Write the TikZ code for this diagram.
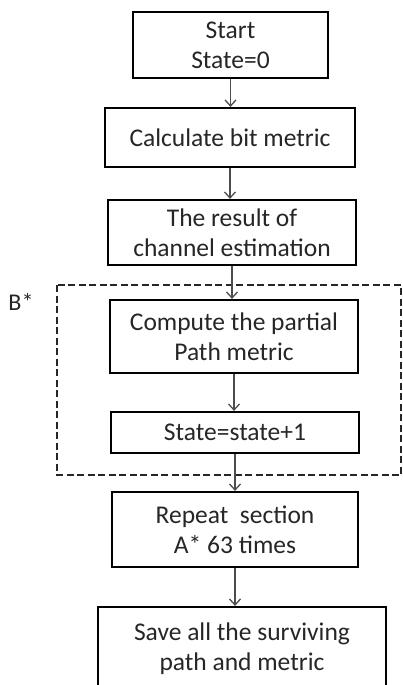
\documentclass[tikz,border=0pt]{standalone}
\usepackage{fontspec}
\setmainfont{Carlito}
\usepackage{tikz}
\usetikzlibrary{arrows.meta}
\usetikzlibrary{calc}
\usetikzlibrary{positioning}

\begin{document}
\begin{tikzpicture}[x=1pt, y=-1pt,
  blockbox/.style={draw=black, line width=2.2pt, inner sep=0pt, align=center, text=black!85,
    font=\fontsize{25.5}{30}\selectfont},
  arrowline/.style={draw=black!70, line width=1.3pt, -{Straight Barb[length=6pt, width=11pt, line width=1.3pt]}}]

\useasboundingbox (0,0) rectangle (403,685);
\clip (0,0) rectangle (403,685);

% Start
\node [blockbox, minimum width=195pt, minimum height=66pt] at (230.5,45) (s1) {Start\\State=0};

% Bit metric
\node [blockbox, minimum width=250pt, minimum height=59pt] at (230,137.5) (s2) {Calculate bit metric};

% Channel estimation
\node [blockbox, minimum width=248pt, minimum height=65pt] at (232,232.5) (s3) {The result of\\channel estimation};

% Section B*
\draw[line width=1.6pt, black!85, dash pattern=on 7pt off 3.5pt] (57,285) rectangle (401,475);
\node [text=black!85, font=\fontsize{24}{28}\selectfont] at (21,302) (lb) {B*};

\node [blockbox, minimum width=248pt, minimum height=73pt] at (234,336.5) (s4) {Compute the partial\\Path metric};
\node [blockbox, minimum width=248pt, minimum height=41pt] at (235,432.5) (s5) {State=state+1};

% Repeat
\node [blockbox, minimum width=246pt, minimum height=75pt] at (235,529.5) (s6) {Repeat\ \ section\\A* 63 times};

% Save
\node [blockbox, minimum width=288pt, minimum height=86pt] at (242,650) (s7) {};
\node [text=black!85, align=center, font=\fontsize{25.5}{30}\selectfont] at (242,649) (t7) {Save all the surviving\\path and metric};

% Arrows
\draw[arrowline] (s1.south) -- (s1.south |- s2.north);
\draw[arrowline] (s2.south) -- (s2.south |- s3.north);
\draw[arrowline] (s3.south) -- (s3.south |- s4.north);
\draw[arrowline] (s4.south) -- (s4.south |- s5.north);
\draw[arrowline] (s5.south) -- (s5.south |- s6.north);
\draw[arrowline] (s6.south) -- (s6.south |- s7.north);

\end{tikzpicture}
\end{document}
